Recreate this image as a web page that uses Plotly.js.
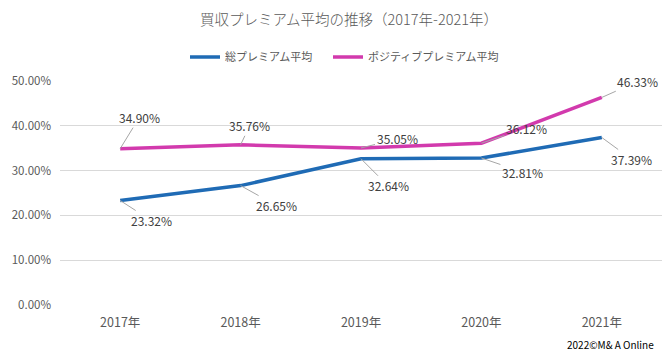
<!DOCTYPE html>
<html><head><meta charset="utf-8">
<script src="https://cdn.plot.ly/plotly-3.0.1.min.js"></script>
<style>html,body{margin:0;padding:0;background:#fff}#chart{width:664px;height:353px}</style>
</head><body><div id="chart"></div>
<script>
const years = ["2017年","2018年","2019年","2020年","2021年"];
const totalPremium = [23.32, 26.65, 32.64, 32.81, 37.39];
const positivePremium = [34.90, 35.76, 35.05, 36.12, 46.33];
const seriesNames = ["総プレミアム平均","ポジティブプレミアム平均"];
const yTickVals = [0,10,20,30,40,50];
const yTickText = ["0.00%","10.00%","20.00%","30.00%","40.00%","50.00%"];

const FONT = '"Noto Sans CJK JP", "Noto Sans", sans-serif';
const blue = '#1f6bb5', pink = '#d23aad';

// label offsets (pixels) for leader-line labels
const pinkOff = [[19,-31],[9,-19],[36,-9],[45,-15],[36,-16]];
const blueOff = [[31,20],[36,20],[27,27],[41,14],[30,22]];

const traces = [
  {x: years, y: totalPremium, name: seriesNames[0], type:'scatter', mode:'lines',
   line:{color:blue, width:3.5}, legend:'legend'},
  {x: years, y: positivePremium, name: seriesNames[1], type:'scatter', mode:'lines',
   line:{color:pink, width:3.5}, legend:'legend2'}
];

const annotations = [];
function addLabels(vals, offs){
  vals.forEach((v,i)=>{
    annotations.push({x: years[i], y: v, xref:'x', yref:'y',
      text: v.toFixed(2)+'%', showarrow:true, arrowhead:0, arrowwidth:1,
      arrowcolor:'#a6a6a6', ax: offs[i][0], ay: offs[i][1], standoff:0, startstandoff:0,
      font:{family:FONT, size:12, color:'#404040'}});
  });
}
addLabels(positivePremium, pinkOff);
addLabels(totalPremium, blueOff);
annotations.push({xref:'paper', yref:'paper', x:(656-60)/602, y:-39/224, xanchor:'right', yanchor:'middle',
  showarrow:false, text:'2022©M&amp; A Online', font:{family:FONT, size:10, color:'#000'}});

const legendBase = {orientation:'h', xref:'container', yref:'container', xanchor:'left',
    y:1-57/353, yanchor:'middle', font:{family:FONT, size:11, color:'#595959'}, itemwidth:30};

const layout = {
  width:664, height:353,
  margin:{l:60, r:2, t:81, b:48},
  paper_bgcolor:'#fff', plot_bgcolor:'#fff',
  font:{family:FONT, color:'#595959'},
  title:{text:'買収プレミアム平均の推移（2017年-2021年）', xref:'container', yref:'container',
    x:349/664, xanchor:'center', y:1-20/353, yanchor:'middle',
    font:{family:FONT, size:14.5, color:'#595959', weight:300}},
  showlegend:true,
  legend:Object.assign({}, legendBase, {x:185/664}),
  legend2:Object.assign({}, legendBase, {x:328/664}),
  xaxis:{type:'category', range:[-0.5, years.length-0.5], showgrid:false, zeroline:false, showline:false, ticks:'',
    tickfont:{family:FONT, size:12.5, color:'#595959'}, ticklabelstandoff:8, fixedrange:true},
  yaxis:{range:[0,50], tickvals:yTickVals, ticktext:yTickText, showgrid:true,
    gridcolor:'#d9d9d9', gridwidth:1, zeroline:false, showline:false, ticks:'',
    tickfont:{family:FONT, size:11.5, color:'#595959'}, ticklabelstandoff:8, fixedrange:true},
  annotations: annotations
};
Plotly.newPlot('chart', traces, layout, {displayModeBar:false, staticPlot:true});
</script></body></html>
